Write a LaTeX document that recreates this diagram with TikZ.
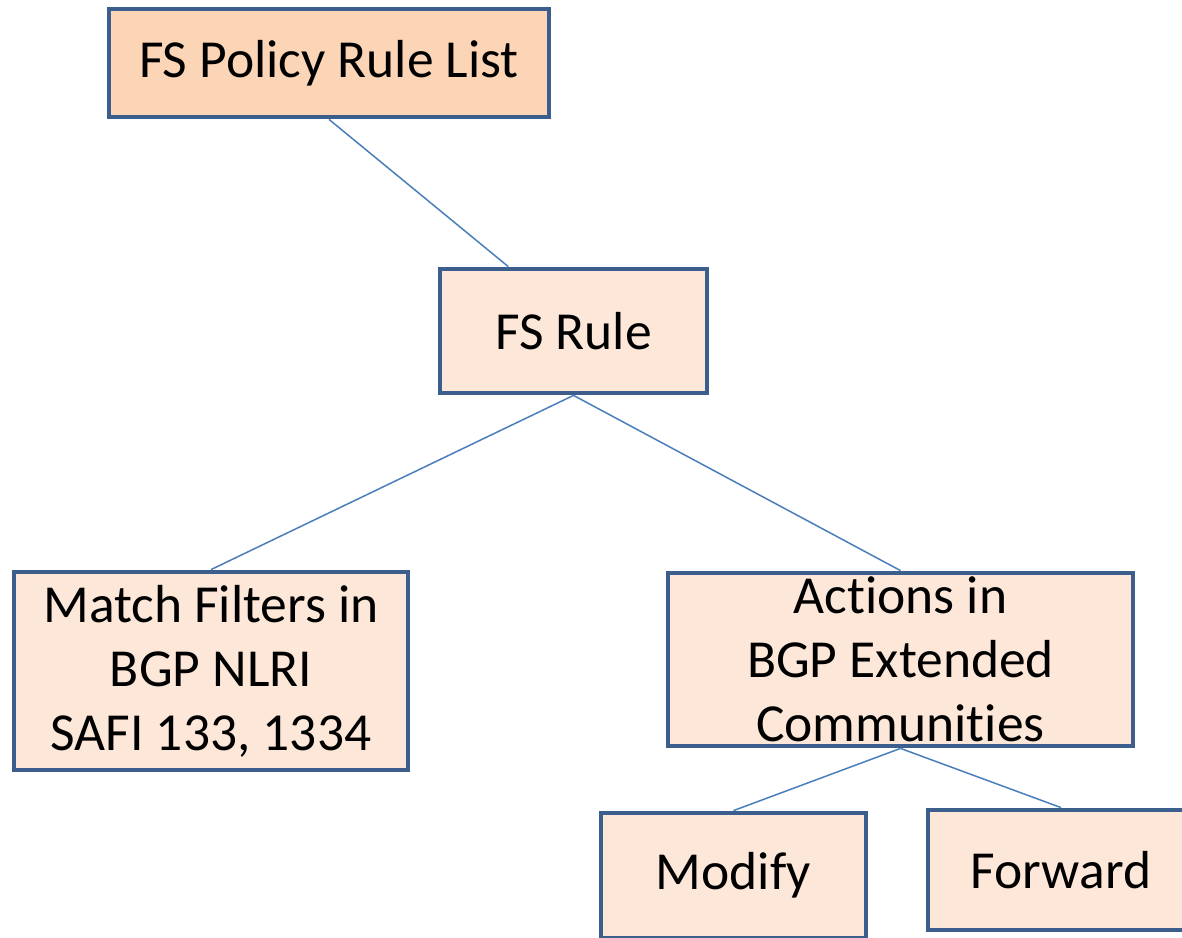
\documentclass[tikz,border=0pt]{standalone}
\usepackage{fontspec}
\setmainfont{Carlito}[Ligatures={NoCommon}]
\usetikzlibrary{calc}
\definecolor{boxline}{HTML}{3B5E8C}
\definecolor{linkline}{HTML}{4A7EBB}
\definecolor{peach}{HTML}{FBD5B5}
\definecolor{lightpeach}{HTML}{FCE7D9}

\begin{document}
\begin{tikzpicture}[x=1pt, y=1pt,
  box/.style={draw=boxline, line width=4.8pt, fill=lightpeach, inner sep=0pt, align=center, font=\fontsize{53.5}{64}\selectfont},
  link/.style={draw=linkline, line width=1.5pt}]
\clip (0,0) rectangle (1182,937);
\node[box, fill=peach, minimum width=440, minimum height=108] (list) at (329,874) {FS Policy Rule List};
\node[box, minimum width=267, minimum height=124] (rule) at (573.5,606) {FS Rule};
\node[box, minimum width=394, minimum height=198] (match) at (211,266) {Match Filters in\\BGP NLRI\\SAFI 133, 1334};
\node[box, minimum width=465, minimum height=173] (actions) at (900.5,277.5) {Actions in\\BGP Extended\\Communities};
\node[box, minimum width=265, minimum height=125] (modify) at (733.5,61.5) {Modify};
\node[box, minimum width=266, minimum height=120] (forward) at (1061,67) {Forward};
\draw[link] (list.south) -- ($(rule.north west)!0.26!(rule.north east)$);
\draw[link] (rule.south) -- (match.north);
\draw[link] (rule.south) -- (actions.north);
\draw[link] (actions.south) -- (modify.north);
\draw[link] (actions.south) -- (forward.north);
\end{tikzpicture}
\end{document}
